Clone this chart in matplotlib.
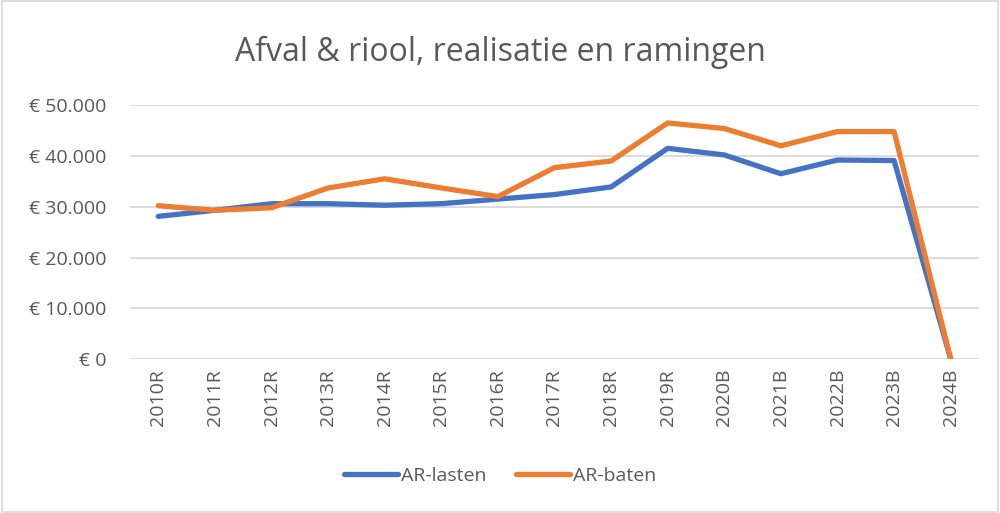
import matplotlib
matplotlib.use("Agg")
import matplotlib.pyplot as plt
from matplotlib.ticker import FuncFormatter, MultipleLocator
from matplotlib.patches import Rectangle

years = ["2010R", "2011R", "2012R", "2013R", "2014R", "2015R", "2016R", "2017R",
         "2018R", "2019R", "2020B", "2021B", "2022B", "2023B", "2024B"]
ar_lasten = [28100, 29300, 30600, 30600, 30300, 30600, 31500, 32400,
             33900, 41500, 40200, 36500, 39200, 39100, 0]
ar_baten = [30200, 29300, 29800, 33700, 35500, 33700, 32000, 37700,
            39000, 46500, 45400, 42000, 44800, 44800, 0]

text_color = "#595959"
plt.rcParams["font.family"] = ["Open Sans", "DejaVu Sans"]

fig = plt.figure(figsize=(10, 5.13), dpi=100)
ax = fig.add_axes([0.13, 0.300, 0.849, 0.495])

x = range(len(years))
ax.plot(x, ar_lasten, color="#4472C4", lw=3.8, label="AR-lasten", solid_capstyle="round")
ax.plot(x, ar_baten, color="#ED7D31", lw=3.8, label="AR-baten", solid_capstyle="round")

ax.set_xlim(-0.5, len(years) - 0.5)
ax.set_ylim(0, 50000)
ax.yaxis.set_major_locator(MultipleLocator(10000))
ax.yaxis.set_major_formatter(FuncFormatter(
    lambda v, _: "€ 0" if v == 0 else "€ " + f"{int(v):,}".replace(",", ".")))
ax.set_xticks(list(x))
ax.set_xticklabels(years, rotation=90)
ax.grid(axis="y", color="#D9D9D9", lw=1.3)
ax.set_axisbelow(True)
for s in ax.spines.values():
    s.set_visible(False)
ax.tick_params(axis="both", length=0, colors=text_color, labelsize=14)
ax.tick_params(axis="y", pad=17)
ax.tick_params(axis="x", pad=7)

fig.text(0.5, 0.897, "Afval & riool, realisatie en ramingen", ha="center", va="center",
         fontsize=23, color=text_color)

fig.legend(loc="center", bbox_to_anchor=(0.5, 0.072), ncol=2, frameon=False,
           fontsize=14, labelcolor=text_color, handlelength=2.8, handletextpad=0.15,
           columnspacing=1.5)

fig.patches.append(Rectangle((0.002, 0.002), 0.996, 0.996, transform=fig.transFigure,
                             fill=False, edgecolor="#D9D9D9", lw=1.2))

fig.savefig("out.png", dpi=100)
